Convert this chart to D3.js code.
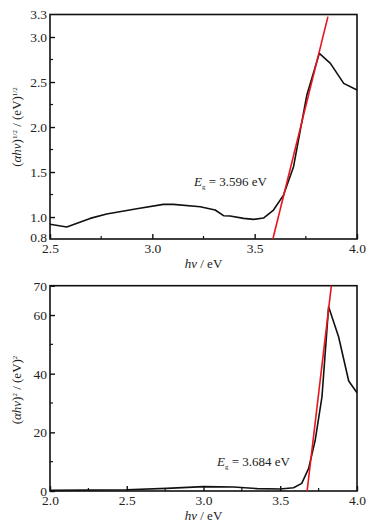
<!DOCTYPE html>
<html>
<head>
<meta charset="utf-8">
<script src="https://cdn.jsdelivr.net/npm/d3@7"></script>
<style>
  body { margin: 0; background: #fff; }
</style>
</head>
<body>
<svg id="chart" width="372" height="530"></svg>
<script>
// Top panel: (ahv)^1/2 vs hv
const energy1 = [2.5, 2.582, 2.696, 2.777, 2.924, 3.054, 3.103, 3.234, 3.307, 3.348, 3.38, 3.446, 3.495, 3.543, 3.592, 3.641, 3.69, 3.755, 3.816, 3.87, 3.935, 4.0];
const sqrtAbs = [0.919, 0.889, 0.985, 1.033, 1.093, 1.141, 1.141, 1.115, 1.078, 1.015, 1.011, 0.985, 0.974, 0.989, 1.078, 1.244, 1.559, 2.356, 2.819, 2.707, 2.485, 2.411];
const fit1 = [[3.589, 0.756], [3.858, 3.226]];
const yTicks1 = [1.0, 1.5, 2.0, 2.5, 3.0];
const yEnds1 = ["0.8", "3.3"];
const xTicks1 = [2.5, 3.0, 3.5, 4.0];

// Bottom panel: (ahv)^2 vs hv
const energy2 = [2.0, 2.5, 2.76, 3.0, 3.196, 3.35, 3.5, 3.587, 3.64, 3.685, 3.728, 3.772, 3.815, 3.88, 3.946, 4.0];
const sqAbs = [0.2, 0.45, 0.9, 1.5, 1.36, 0.8, 0.7, 1.1, 2.6, 7.7, 17.4, 32.2, 62.8, 52.6, 37.5, 33.5];
const fit2 = [[3.675, 0], [3.833, 70]];
const yTicks2 = [0, 20, 40, 60, 70];
const xTicks2 = [2.0, 2.5, 3.0, 3.5, 4.0];

const svg = d3.select("#chart");
const FONT = "Liberation Serif, Times New Roman, serif";

function panel(opt) {
  const x = d3.scaleLinear().domain(opt.xDomain).range([50, 357]);
  const y = d3.scaleLinear().domain(opt.yDomain).range([opt.bottom, opt.top]);
  const g = svg.append("g").attr("font-family", FONT);

  // minor ticks
  g.selectAll(".xminor").data(opt.xMinor).enter().append("line")
    .attr("x1", d => x(d)).attr("x2", d => x(d))
    .attr("y1", opt.bottom).attr("y2", opt.bottom - 3)
    .attr("stroke", "#111").attr("stroke-width", 1.2);
  g.selectAll(".yminor").data(opt.yMinor).enter().append("line")
    .attr("x1", 50).attr("x2", 53)
    .attr("y1", d => y(d)).attr("y2", d => y(d))
    .attr("stroke", "#111").attr("stroke-width", 1.2);

  const xAxis = g.append("g").attr("transform", `translate(0,${opt.bottom})`)
    .call(d3.axisBottom(x).tickValues(opt.xTicks).tickFormat(d3.format(".1f"))
      .tickSizeInner(-5).tickSizeOuter(0).tickPadding(4));
  const yAxis = g.append("g").attr("transform", "translate(50,0)")
    .call(d3.axisLeft(y).tickValues(opt.yTicks).tickFormat(opt.yFormat)
      .tickSizeInner(-5).tickSizeOuter(0).tickPadding(3));
  [xAxis, yAxis].forEach(a => {
    a.attr("font-family", FONT).attr("font-size", 13.5);
    a.select(".domain").remove();
    a.selectAll("line").attr("stroke", "#111").attr("stroke-width", 1.4);
    a.selectAll("text").attr("fill", "#222");
  });

  if (opt.yEnds) {
    g.selectAll(".yend").data(opt.yEnds).enter().append("text")
      .attr("x", 47).attr("y", (d, i) => i === 0 ? y.range()[0] - 1 : y.range()[1])
      .attr("dy", "0.32em").attr("text-anchor", "end").attr("fill", "#222")
      .attr("font-size", 13.5).text(d => d);
  }

  // frame
  g.append("rect").attr("x", 50).attr("y", opt.top)
    .attr("width", 307).attr("height", opt.bottom - opt.top)
    .attr("fill", "none").attr("stroke", "#111").attr("stroke-width", 1.6);

  const line = d3.line().x(d => x(d[0])).y(d => y(d[1]));
  g.append("path").datum(opt.xs.map((v, i) => [v, opt.ys[i]]))
    .attr("d", line).attr("fill", "none")
    .attr("stroke", "#111").attr("stroke-width", 1.6).attr("stroke-linejoin", "round");
  g.append("path").datum(opt.fit)
    .attr("d", line).attr("fill", "none")
    .attr("stroke", "#e8161c").attr("stroke-width", 1.6);

  // annotation
  const ann = g.append("text").attr("x", opt.annX).attr("y", opt.annY)
    .attr("font-size", 13).attr("fill", "#222");
  ann.append("tspan").style("font-style", "italic").text("E");
  ann.append("tspan").attr("dy", 3).attr("font-size", 7).text("g");
  ann.append("tspan").attr("dy", -3).text(" = " + opt.eg + " eV");

  // x label
  const xl = g.append("text").attr("x", 203.5).attr("y", opt.bottom + 29)
    .attr("text-anchor", "middle").attr("font-size", 13).attr("fill", "#222");
  xl.append("tspan").style("font-style", "italic").text("hν");
  xl.append("tspan").text(" / eV");

  // y label
  const yl = g.append("text")
    .attr("transform", `translate(21,${opt.yLabelY}) rotate(-90)`)
    .attr("text-anchor", "middle").attr("font-size", 13).attr("fill", "#222");
  yl.append("tspan").text("(");
  yl.append("tspan").style("font-style", "italic").text("αhν");
  yl.append("tspan").text(")");
  yl.append("tspan").attr("dy", -4).attr("font-size", 7).text(opt.pow);
  yl.append("tspan").attr("dy", 4).text(" / (eV)");
  yl.append("tspan").attr("dy", -4).attr("font-size", 7).text(opt.pow);
}

panel({
  xDomain: [2.5, 4.0], yDomain: [0.756, 3.25], top: 14.5, bottom: 239,
  xTicks: xTicks1, xMinor: [2.75, 3.25, 3.75],
  yTicks: yTicks1, yMinor: [1.25, 1.75, 2.25, 2.75], yFormat: d3.format(".1f"), yEnds: yEnds1,
  xs: energy1, ys: sqrtAbs, fit: fit1,
  annX: 194, annY: 186, eg: "3.596", yLabelY: 127, pow: "1/2"
});

panel({
  xDomain: [2.0, 4.0], yDomain: [0, 70], top: 285.7, bottom: 491,
  xTicks: xTicks2, xMinor: [2.25, 2.75, 3.25, 3.75],
  yTicks: yTicks2, yMinor: [10, 30, 50], yFormat: d3.format("d"),
  xs: energy2, ys: sqAbs, fit: fit2,
  annX: 217, annY: 466, eg: "3.684", yLabelY: 390, pow: "2"
});
</script>
</body>
</html>
